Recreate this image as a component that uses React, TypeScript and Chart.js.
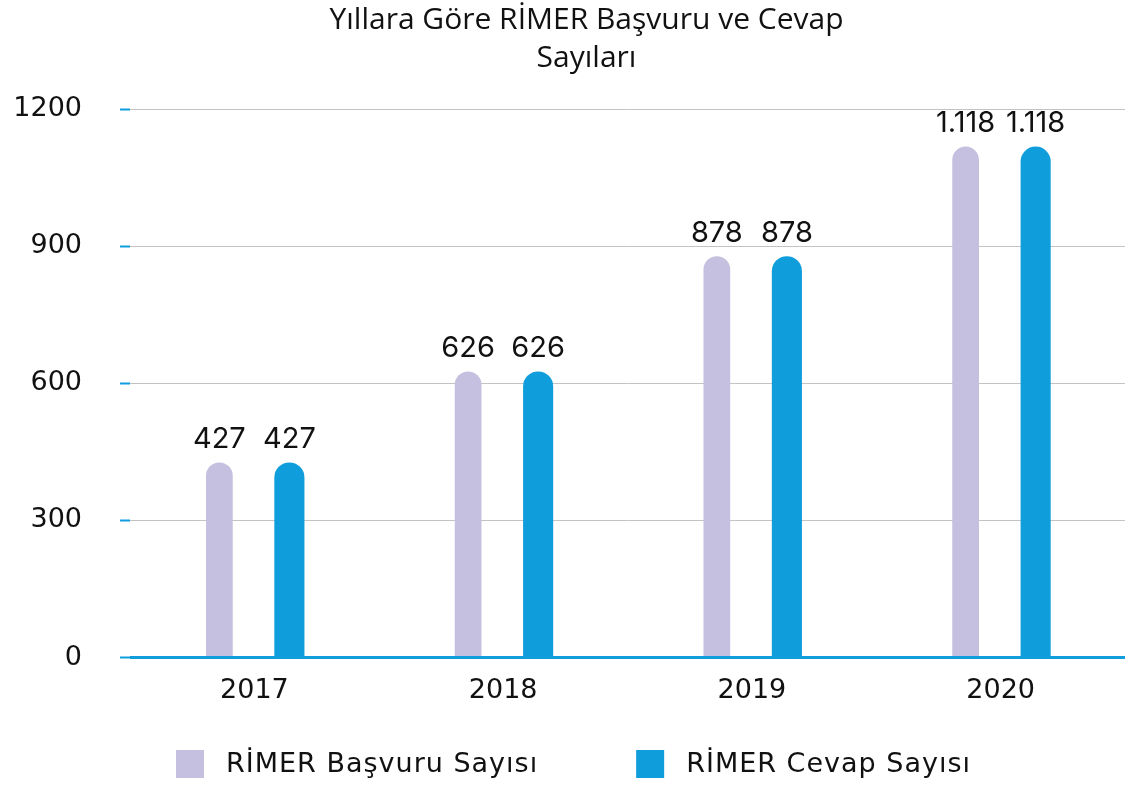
import React, { useEffect, useRef } from 'react';
import { Chart, registerables } from 'chart.js';

Chart.register(...registerables);

const categories = ['2017', '2018', '2019', '2020'];
const basvuruValues = [427, 626, 878, 1118];
const cevapValues = [427, 626, 878, 1118];
const seriesNames = ['RİMER Başvuru Sayısı', 'RİMER Cevap Sayısı'];
const titleLines = ['Yıllara Göre RİMER Başvuru ve Cevap', 'Sayıları'];
const yMin = 0;
const yMax = 1200;
const yStep = 300;

const LIGHT = '#C5C0DF';
const BLUE = '#109DDC';
const GRID = '#C3C3C3';
const FONT = '"DejaVu Sans", sans-serif';
const LABEL_FONT = 'Inter, "DejaVu Sans", sans-serif';
const TITLE_FONT = '"Open Sans", "Noto Sans", sans-serif';

const fmt = (v: number) => String(v).replace(/\B(?=(\d{3})+(?!\d))/g, '.');

const dataLabelPlugin = {
  id: 'dataLabels',
  afterDatasetsDraw(chart: any) {
    const ctx = chart.ctx;
    ctx.save();
    ctx.font = `29px ${LABEL_FONT}`;
    ctx.fillStyle = '#111';
    ctx.textAlign = 'center';
    ctx.textBaseline = 'alphabetic';
    chart.data.datasets.forEach((ds: any, i: number) => {
      const meta = chart.getDatasetMeta(i);
      meta.data.forEach((el: any, j: number) => {
        ctx.fillText(fmt(ds.data[j]), el.x, el.y - 14);
      });
    });
    ctx.restore();
  },
};

// let the y tick labels use the space left of the layout padding
const unclipYPlugin = {
  id: 'unclipY',
  afterLayout(chart: any) {
    const y = chart.scales.y;
    if (y) y.left = 0;
  },
};

const legendPlugin = {
  id: 'customLegend',
  afterDraw(chart: any) {
    const ctx = chart.ctx;
    ctx.save();
    ctx.font = `27px ${FONT}`;
    try {
      (ctx as any).letterSpacing = '1px';
    } catch (e) {}
    ctx.textBaseline = 'middle';
    ctx.textAlign = 'left';
    const box = 28;
    const gapText = 22;
    const gapItem = 98;
    const items = chart.data.datasets.map((ds: any) => ({
      text: ds.label,
      color: ds.backgroundColor,
      w: ctx.measureText(ds.label).width,
    }));
    const total =
      items.reduce((s: number, it: any) => s + box + gapText + it.w, 0) + gapItem * (items.length - 1);
    let x = chart.width / 2 + 11 - total / 2;
    const yc = chart.height - 22;
    items.forEach((it: any) => {
      ctx.fillStyle = it.color;
      ctx.fillRect(x, yc - box / 2, box, box);
      ctx.fillStyle = '#111';
      ctx.fillText(it.text, x + box + gapText, yc + 1);
      x += box + gapText + it.w + gapItem;
    });
    ctx.restore();
  },
};

export default function App() {
  const ref = useRef<HTMLCanvasElement | null>(null);

  useEffect(() => {
    if (!ref.current) return;
    const chart = new Chart(ref.current, {
      type: 'bar',
      data: {
        labels: categories,
        datasets: [
          {
            label: seriesNames[0],
            data: basvuruValues,
            backgroundColor: LIGHT,
            categoryPercentage: 0.563,
            barPercentage: 0.382,
            borderRadius: 20,
            borderSkipped: 'start',
          },
          {
            label: seriesNames[1],
            data: cevapValues,
            backgroundColor: BLUE,
            categoryPercentage: 0.563,
            barPercentage: 0.43,
            borderRadius: 20,
            borderSkipped: 'start',
          },
        ],
      },
      options: {
        animation: false,
        responsive: true,
        maintainAspectRatio: false,
        layout: { padding: { top: 0, right: 0, bottom: 62, left: 48 } },
        plugins: {
          legend: { display: false },
          tooltip: { enabled: false },
          title: {
            display: true,
            text: titleLines,
            color: '#111',
            font: { family: TITLE_FONT, size: 30, weight: 'normal', lineHeight: 1.25 },
            padding: { top: 2, bottom: 32 },
          },
        },
        scales: {
          x: {
            grid: { display: false, drawTicks: false },
            border: { display: false },
            ticks: { color: '#111', font: { family: FONT, size: 27 }, padding: 17 },
          },
          y: {
            min: yMin,
            max: yMax,
            afterFit: (scale: any) => {
              scale.width = 82;
            },
            border: { display: false },
            grid: {
              color: (c: any) => (c.tick && c.tick.value === 0 ? BLUE : GRID),
              lineWidth: (c: any) => (c.tick && c.tick.value === 0 ? 3 : 1),
              tickColor: BLUE,
              tickWidth: 2,
              tickLength: 10,
            },
            ticks: {
              stepSize: yStep,
              color: '#111',
              padding: 38,
              font: { family: FONT, size: 27 },
              callback: (v: any) => String(v),
            },
          },
        },
      },
      plugins: [unclipYPlugin, dataLabelPlugin, legendPlugin],
    });
    return () => chart.destroy();
  }, []);

  return (
    <div style={{ position: 'fixed', left: 0, top: 0, width: 1125, height: 786, background: '#fff' }}>
      <canvas ref={ref} />
    </div>
  );
}
